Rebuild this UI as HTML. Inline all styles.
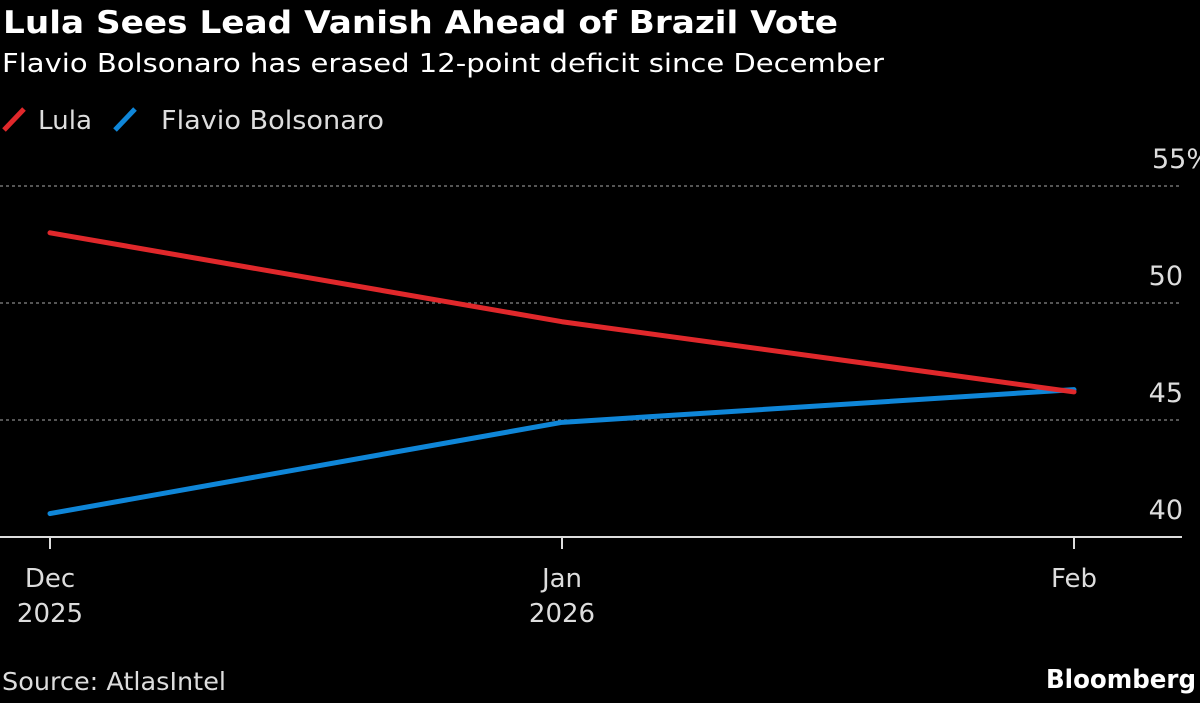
<!DOCTYPE html>
<html><head><meta charset="utf-8"><style>
body{margin:0;background:#000;width:1200px;height:699px;overflow:hidden;font-family:"DejaVu Sans","Liberation Sans",sans-serif;color:#fff}
</style></head><body>
<svg width="1200" height="699">
<text x="3" y="33" font-size="31" font-weight="bold" fill="#fff" textLength="835" lengthAdjust="spacingAndGlyphs">Lula Sees Lead Vanish Ahead of Brazil Vote</text>
<text x="2" y="72" font-size="26" fill="#fff" textLength="882" lengthAdjust="spacingAndGlyphs">Flavio Bolsonaro has erased 12-point deficit since December</text>
<g>
<line x1="4" y1="130" x2="24" y2="109" stroke="#e0282b" stroke-width="5"/>
<text x="38" y="129" font-size="26" fill="#ddd" textLength="54" lengthAdjust="spacingAndGlyphs">Lula</text>
<line x1="115" y1="130" x2="135" y2="109" stroke="#0f86d8" stroke-width="5"/>
<text x="161" y="129" font-size="26" fill="#ddd" textLength="223" lengthAdjust="spacingAndGlyphs">Flavio Bolsonaro</text>
</g>
<g id="grid"></g><g id="series"></g>
<text x="2" y="690" font-size="25" fill="#ddd" textLength="224" lengthAdjust="spacingAndGlyphs">Source: AtlasIntel</text>
<text x="1196" y="688" font-size="26" font-weight="bold" fill="#fff" text-anchor="end" textLength="150" lengthAdjust="spacingAndGlyphs">Bloomberg</text>
</svg>
<script>
const categories=[["Dec","2025"],["Jan","2026"],["Feb",""]];
const lula=[53.0,49.2,46.2];
const bolsonaro=[41.0,44.9,46.3];
const yTicks=[40,45,50,55];
const yTickLabels=["40","45","50","55%"];
const NS="http://www.w3.org/2000/svg";
function x(i){return 50+i*512;}
function y(v){return 537-(v-40)*23.4;}
function mk(t,a,p){const e=document.createElementNS(NS,t);for(const k in a)e.setAttribute(k,a[k]);p.appendChild(e);return e;}
const g=document.getElementById('grid'),s=document.getElementById('series');
yTicks.forEach((v,i)=>{
 if(v>40){const l=mk('line',{x1:0,x2:1182,y1:y(v),y2:y(v),stroke:'#888','stroke-width':1.3,'stroke-dasharray':'3,3'},g);
 
 }
 const t=mk('text',{x:1183,y:y(v)-18,'font-size':27,fill:'#ddd','text-anchor':'end'},g);
 if(i==yTicks.length-1)t.setAttribute('text-anchor','start'),t.setAttribute('x',1152);
 t.textContent=yTickLabels[i];
 
 
});
const ax=mk('line',{x1:0,x2:1182,y1:537,y2:537,stroke:'#ddd','stroke-width':2},g);


categories.forEach((c,i)=>{
 const tk=mk('line',{x1:x(i),x2:x(i),y1:537,y2:549,stroke:'#ddd','stroke-width':2},g);
 
 
 c.forEach((txt,j)=>{if(!txt)return;
  const t=mk('text',{x:x(i),y:587+j*35,'font-size':26,fill:'#ddd','text-anchor':'middle'},g);
  t.textContent=txt;
  
  });
});
function line(data,color,name){
 const p=mk('polyline',{points:data.map((v,i)=>x(i)+','+y(v)).join(' '),fill:'none',stroke:color,'stroke-width':5,'stroke-linecap':'round','stroke-linejoin':'round'},s);
 
 
}
line(bolsonaro,'#0f86d8','series-line-bolsonaro');
line(lula,'#e0282b','series-line-lula');
</script>
</body></html>
